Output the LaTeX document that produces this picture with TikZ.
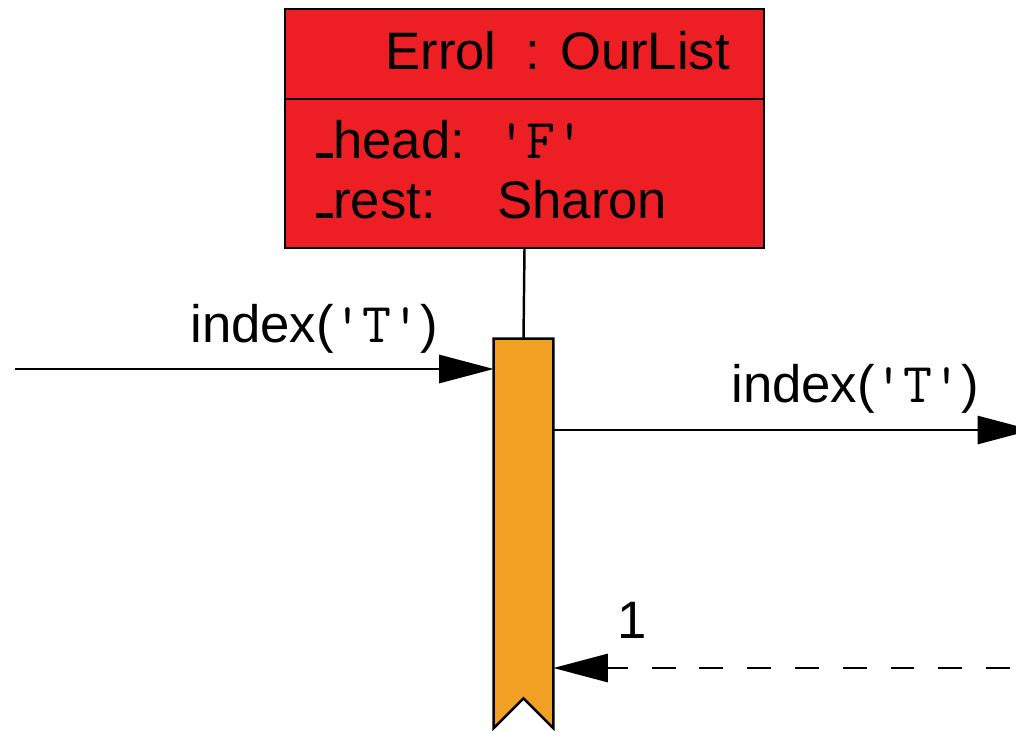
\documentclass[tikz,border=0pt]{standalone}
\usepackage{fontspec}
\setmainfont{Liberation Sans}
\usetikzlibrary{positioning, arrows.meta}
\definecolor{ObjRed}{RGB}{237,31,36}
\definecolor{ActOrange}{RGB}{242,160,36}
\newcommand{\fldbar}{\rule{0.32em}{0.09em}}
\newcommand{\chr}[1]{{\fontsize{32}{36}\ttfamily #1}}
\tikzset{
  objpart/.style={draw, line width=1.4pt, fill=ObjRed, minimum width=9.58cm, inner sep=0pt, outer sep=0pt},
  txt/.style={inner sep=0pt, anchor=base west, font=\fontsize{30}{36}\selectfont},
  msg/.style={line width=1.4pt, -{Triangle[length=31pt, width=16pt]}},
  reply/.style={msg, dash pattern=on 13.6pt off 13.6pt, dash phase=23.8pt}
}

\begin{document}
\begin{tikzpicture}[x=0.02cm, y=-0.02cm]
  \useasboundingbox (0,0) rectangle (1016,730);

  % object box: name part and attribute part
  \node[objpart, minimum height=1.8cm] (errol) at (524.5,54) {};
  \node[objpart, minimum height=2.98cm, below=0pt of errol] (errolattr) {};
  \node[txt] (errolname) at (385,69) {Errol\ \ : OurList};
  \node[txt] (headfld) at (316,158) {\fldbar head:};
  \node[txt] (headval) at (497,158) {\chr{'F'}};
  \node[txt] (restfld) at (316,218) {\fldbar rest:};
  \node[txt] (restval) at (497,218) {Sharon};

  % activation bar with notched end
  \node[minimum width=1.18cm, minimum height=7.78cm, inner sep=0pt] (act) at (523.5,533.5) {};
  \filldraw[line width=1.4pt, fill=ActOrange]
    (act.north west) -- (act.north east) -- (act.south east)
    -- ([yshift=0.6cm]act.south) -- (act.south west) -- cycle;
  \draw[line width=1.4pt] (errolattr.south) -- (act.north);

  % incoming call
  \coordinate (caller) at (15,369);
  \draw[msg] (caller) -- (caller -| act.west);
  \node[txt] (calllbl) at (190,342) {index(\chr{'T'})};

  % outgoing call, tip runs past the page edge
  \coordinate (callee) at (1032,430);
  \draw[msg] (callee -| act.east) -- (callee);
  \node[txt] (fwdlbl) at (731,402) {index(\chr{'T'})};

  % return value
  \coordinate (retsrc) at (1016,668);
  \draw[reply] (retsrc) -- (retsrc -| act.east);
  \node[txt] (retlbl) at (617,638) {1};
\end{tikzpicture}
\end{document}
